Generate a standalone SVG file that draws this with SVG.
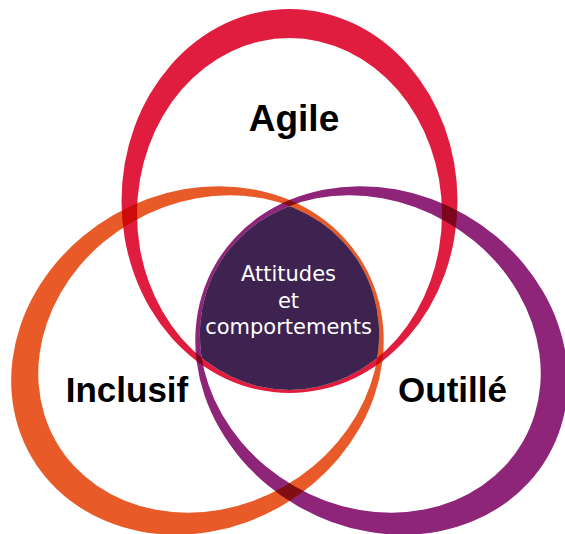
<svg xmlns="http://www.w3.org/2000/svg" xmlns:xlink="http://www.w3.org/1999/xlink" width="565" height="534" viewBox="0 0 565 534">
  <style>
    .ring { fill-rule: evenodd; mix-blend-mode: multiply; }
    .label { font-family: "Liberation Sans", Arial, sans-serif; font-weight: bold; fill: #000; text-anchor: middle; }
    .core { font-family: "DejaVu Sans", "Liberation Sans", sans-serif; font-size: 21px; fill: #fff; text-anchor: middle; }
  </style>
  <defs>
    <path id="ringShape" d="M121.5,201 a168,192 0 1,0 336,0 a168,192 0 1,0 -336,0 Z M137,214 a152.5,176 0 1,0 305,0 a152.5,176 0 1,0 -305,0 Z"/>
    <ellipse id="innerShape" cx="289.5" cy="214" rx="152.5" ry="176"/>
    <clipPath id="clipRed"><use xlink:href="#innerShape"/></clipPath>
    <clipPath id="clipOrange"><use xlink:href="#innerShape" transform="rotate(-120 289.5 307.3)"/></clipPath>
  </defs>
  <rect width="565" height="534" fill="#fff"/>
  <g style="isolation:isolate">
    <g id="core">
      <g clip-path="url(#clipRed)">
        <g clip-path="url(#clipOrange)">
          <use xlink:href="#innerShape" transform="rotate(120 289.5 307.3)" fill="#3E2350"/>
        </g>
      </g>
    </g>
    <g id="agile">
      <use xlink:href="#ringShape" class="ring" fill="#E11D3F"/>
    </g>
    <g id="inclusif">
      <use xlink:href="#ringShape" class="ring" fill="#E85A27" transform="rotate(-120 289.5 307.3)"/>
    </g>
    <g id="outille">
      <use xlink:href="#ringShape" class="ring" fill="#8E2579" transform="rotate(120 289.5 307.3)"/>
    </g>
  </g>
  <g id="connectors"/>
  <g id="labels">
    <text class="label" x="294" y="131" font-size="37">Agile</text>
    <text class="label" x="127" y="401.5" font-size="35">Inclusif</text>
    <text class="label" x="452.5" y="401.5" font-size="35">Outillé</text>
    <text class="core" x="288.5" y="281">Attitudes</text>
    <text class="core" x="288.5" y="307.5">et</text>
    <text class="core" x="288.5" y="333.5">comportements</text>
  </g>
</svg>
